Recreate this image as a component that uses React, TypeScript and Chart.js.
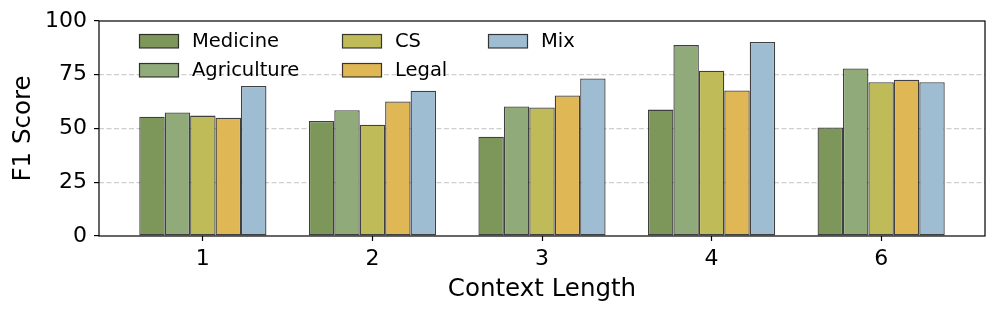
import React, { useEffect, useRef } from "react";
import { Chart, registerables } from "chart.js";

Chart.register(...registerables);

const categories = ["1", "2", "3", "4", "6"];
const seriesNames = ["Medicine", "Agriculture", "CS", "Legal", "Mix"];
const medicine = [55.5, 53.5, 46.2, 58.8, 50.5];
const agriculture = [57.5, 58.5, 60.2, 88.8, 77.9];
const cs = [56.0, 51.8, 59.8, 76.9, 71.5];
const legal = [55.0, 62.6, 65.4, 67.7, 72.7];
const mix = [69.8, 67.6, 73.3, 90.2, 71.5];
const yTicks = [0, 25, 50, 75, 100];

const colors = ["#7d9659", "#91aa7a", "#bfbb58", "#e0b755", "#9fbdd2"];
const EDGE = "rgba(30,30,30,0.85)";
const FONT = "'DejaVu Sans', sans-serif";

const framePlugin = {
  id: "frame",
  afterDraw(chart: any) {
    const { ctx, chartArea } = chart;
    ctx.save();
    ctx.strokeStyle = "#000";
    ctx.lineWidth = 1.2;
    ctx.strokeRect(chartArea.left, chartArea.top, chartArea.right - chartArea.left, chartArea.bottom - chartArea.top);
    ctx.restore();
  },
};

const legendPlugin = {
  id: "colLegend",
  afterDatasetsDraw(chart: any) {
    const { ctx, chartArea } = chart;
    const colX = [40, 243, 389];
    const rowY = [20, 49];
    ctx.save();
    ctx.font = `19.5px ${FONT}`;
    ctx.textBaseline = "middle";
    ctx.textAlign = "left";
    chart.data.datasets.forEach((ds: any, k: number) => {
      const col = Math.floor(k / 2);
      const row = k % 2;
      const x = chartArea.left + colX[col];
      const y = chartArea.top + rowY[row];
      ctx.fillStyle = ds.backgroundColor;
      ctx.fillRect(x, y - 7, 40, 14);
      ctx.strokeStyle = EDGE;
      ctx.lineWidth = 1.2;
      ctx.strokeRect(x + 0.5, y - 7 + 0.5, 39, 13.5);
      ctx.fillStyle = "#000";
      ctx.fillText(ds.label, x + 53, y + 1);
    });
    ctx.restore();
  },
};

export default function App() {
  const ref = useRef<HTMLCanvasElement>(null);
  useEffect(() => {
    document.body.style.margin = "0";
    const series = [medicine, agriculture, cs, legal, mix];
    const chart = new Chart(ref.current!, {
      type: "bar",
      data: {
        datasets: series.map((vals, si) => ({
          label: seriesNames[si],
          data: vals.map((v, i) => ({ x: i, y: v })),
          backgroundColor: colors[si],
          borderColor: EDGE,
          borderWidth: 1.3,
          borderSkipped: false,
          categoryPercentage: 0.75,
          barPercentage: 1.0,
        })),
      },
      options: {
        animation: false,
        responsive: false,
        maintainAspectRatio: false,
        layout: { padding: { left: 0, right: 12, top: 21, bottom: 0 } },
        plugins: { legend: { display: false }, tooltip: { enabled: false } },
        scales: {
          x: {
            type: "linear",
            offset: false,
            min: -0.6125,
            max: 4.6125,
            afterBuildTicks: (scale: any) => {
              scale.ticks = categories.map((_, i) => ({ value: i }));
            },
            afterFit: (scale: any) => {
              scale.height = 78;
            },
            ticks: {
              callback: (v: any) => categories[v] ?? "",
              font: { family: FONT, size: 22 },
              color: "#000",
              padding: 5,
              maxRotation: 0,
              autoSkip: false,
            },
            grid: { offset: false, drawOnChartArea: false, drawTicks: true, tickLength: 5, tickColor: "#000", tickWidth: 1.2 },
            border: { display: false },
            title: {
              display: true,
              text: "Context Length",
              font: { family: FONT, size: 24.5 },
              color: "#000",
              padding: { top: 0, bottom: 10 },
            },
          },
          y: {
            min: 0,
            max: 100,
            afterBuildTicks: (scale: any) => {
              scale.ticks = yTicks.map((v) => ({ value: v }));
            },
            afterFit: (scale: any) => {
              scale.width = 99;
            },
            ticks: {
              font: { family: FONT, size: 22 },
              color: "#000",
              padding: 7,
            },
            grid: {
              color: (c: any) => (c.tick && (c.tick.value === 0 || c.tick.value === 100) ? "rgba(0,0,0,0)" : "#cfcfcf"),
              lineWidth: 1.2,
              tickLength: 5,
              tickColor: "#000",
              tickWidth: 1.2,
            },
            border: { display: false, dash: [5, 2.5] },
            title: {
              display: true,
              text: "F1 Score",
              font: { family: FONT, size: 24.5 },
              color: "#000",
              padding: { top: 9, bottom: 0 },
            },
          },
        },
      },
      plugins: [legendPlugin, framePlugin],
    } as any);
    return () => chart.destroy();
  }, []);
  return (
    <div style={{ position: "fixed", left: 0, top: 0, width: 997, height: 314, background: "#fff" }}>
      <canvas ref={ref} width={997} height={314} style={{ width: 997, height: 314 }} />
    </div>
  );
}
